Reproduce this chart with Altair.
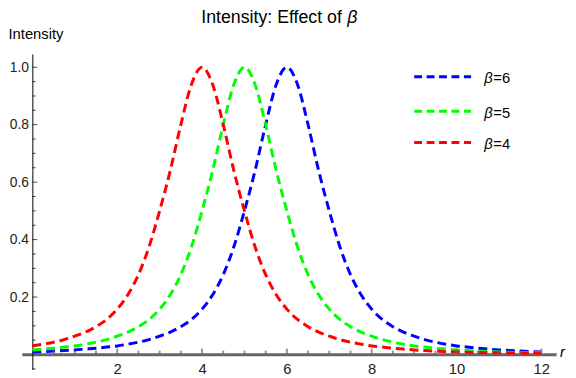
import altair as alt
import pandas as pd

# ---- data ----
r_grid = [0.0, 0.25, 0.5, 0.75, 1.0, 1.25, 1.5, 1.75, 2.0, 2.25, 2.5, 2.75,
          3.0, 3.25, 3.5, 3.75, 4.0, 4.25, 4.5, 4.75, 5.0, 5.25, 5.5, 5.75,
          6.0, 6.25, 6.5, 6.75, 7.0, 7.25, 7.5, 7.75, 8.0, 8.25, 8.5, 8.75,
          9.0, 9.25, 9.5, 9.75, 10.0, 10.25, 10.5, 10.75, 11.0, 11.25, 11.5, 11.75, 12.0]

intensity_beta6 = [0.009, 0.010, 0.012, 0.014, 0.016, 0.019, 0.022, 0.026, 0.030, 0.036, 0.043, 0.052,
                   0.064, 0.078, 0.097, 0.122, 0.158, 0.208, 0.278, 0.375, 0.500, 0.640, 0.800, 0.940,
                   1.000, 0.940, 0.800, 0.640, 0.500, 0.375, 0.278, 0.208, 0.158, 0.122, 0.097, 0.078,
                   0.064, 0.052, 0.043, 0.036, 0.030, 0.026, 0.022, 0.019, 0.016, 0.014, 0.012, 0.010, 0.009]

intensity_beta5 = [0.016, 0.019, 0.022, 0.026, 0.030, 0.036, 0.043, 0.052, 0.064, 0.078, 0.097, 0.122,
                   0.158, 0.208, 0.278, 0.375, 0.500, 0.640, 0.800, 0.940, 1.000, 0.940, 0.800, 0.640,
                   0.500, 0.375, 0.278, 0.208, 0.158, 0.122, 0.097, 0.078, 0.064, 0.052, 0.043, 0.036,
                   0.030, 0.026, 0.022, 0.019, 0.016, 0.014, 0.012, 0.010, 0.009, 0.008, 0.007, 0.0065, 0.006]

intensity_beta4 = [0.030, 0.036, 0.043, 0.052, 0.064, 0.078, 0.097, 0.122, 0.158, 0.208, 0.278, 0.375,
                   0.500, 0.640, 0.800, 0.940, 1.000, 0.940, 0.800, 0.640, 0.500, 0.375, 0.278, 0.208,
                   0.158, 0.122, 0.097, 0.078, 0.064, 0.052, 0.043, 0.036, 0.030, 0.026, 0.022, 0.019,
                   0.016, 0.014, 0.012, 0.010, 0.009, 0.008, 0.007, 0.0065, 0.006, 0.0055, 0.005, 0.0045, 0.004]

betas = [6, 5, 4]
legend_eq = ["=6", "=5", "=4"]
colors = ["#0000FF", "#00FF00", "#FF0000"]

x_major_ticks = [2, 4, 6, 8, 10, 12]
x_minor_ticks = [0.5, 1, 1.5, 2.5, 3, 3.5, 4.5, 5, 5.5, 6.5, 7, 7.5, 8.5, 9, 9.5, 10.5, 11, 11.5]
y_major_ticks = [0.2, 0.4, 0.6, 0.8, 1.0]
y_minor_ticks = [-0.05, 0.05, 0.1, 0.15, 0.25, 0.3, 0.35, 0.45, 0.5, 0.55, 0.65, 0.7,
                 0.75, 0.85, 0.9, 0.95]

title_text = "Intensity: Effect of"
greek = "β"
y_title = "Intensity"
x_title = "r"

# ---- build tables ----
rows = []
for b, vals in zip(betas, [intensity_beta6, intensity_beta5, intensity_beta4]):
    for r, v in zip(r_grid, vals):
        rows.append({"r": r, "I": v, "beta": b})
df = pd.DataFrame(rows)

FONT = "Liberation Sans"
AXIS_GRAY = "#666666"
LABEL_COLOR = "#222222"

x_scale = alt.Scale(domain=[-0.25, 12.35], nice=False, zero=False)
y_scale = alt.Scale(domain=[-0.052, 1.046], nice=False, zero=False)
color_scale = alt.Scale(domain=betas, range=colors)

x_axis = alt.Axis(
    values=x_major_ticks, format="d", offset=-15.4, domainColor=AXIS_GRAY,
    domainWidth=3, ticks=False, tickSize=0, labelPadding=7, labelFont=FONT,
    labelFontSize=15, labelColor=LABEL_COLOR, labelFlush=False, grid=False, title=None)
y_axis = alt.Axis(
    values=y_major_ticks, format=".1f", offset=-10.7, domainColor="#000000",
    domainWidth=1, ticks=False, tickSize=0, labelPadding=4, labelFont=FONT,
    labelFontSize=14, labelColor=LABEL_COLOR, labelFlush=False, grid=False, title=None)

curves = alt.Chart(df).mark_line(
    strokeWidth=3, strokeDash=[9, 5], interpolate="monotone", strokeCap="butt"
).encode(
    x=alt.X("r:Q", scale=x_scale, axis=x_axis),
    y=alt.Y("I:Q", scale=y_scale, axis=y_axis),
    color=alt.Color("beta:N", scale=color_scale, legend=None),
)

def xticks(vals, size):
    d = pd.DataFrame({"r": vals, "I": [0.0] * len(vals)})
    return alt.Chart(d).mark_tick(
        orient="vertical", size=size, thickness=2, yOffset=-size / 2, color=AXIS_GRAY
    ).encode(
        x=alt.X("r:Q", scale=x_scale),
        y=alt.Y("I:Q", scale=y_scale),
    )

def yticks(vals, size):
    d = pd.DataFrame({"r": [0.0] * len(vals), "I": vals})
    return alt.Chart(d).mark_tick(
        orient="horizontal", size=size, thickness=1, xOffset=size / 2, color="#000000"
    ).encode(
        x=alt.X("r:Q", scale=x_scale),
        y=alt.Y("I:Q", scale=y_scale),
    )

def text_layer(text, x, y, size, italic=False):
    d = pd.DataFrame({"t": [text]})
    return alt.Chart(d).mark_text(
        font=FONT, fontSize=size, fontStyle="italic" if italic else "normal",
        align="left", baseline="alphabetic", color="#000000"
    ).encode(text="t:N", x=alt.value(x), y=alt.value(y))

# legend rows (pixel positions inside the plot area)
legend_row_px = [23, 58, 89.7]
legend_layers = []
for b, eq, py in zip(betas, legend_eq, legend_row_px):
    d = pd.DataFrame({"beta": [b], "eq": [eq], "g": [greek]})
    legend_layers.append(
        alt.Chart(d).mark_rule(strokeWidth=3, strokeDash=[8, 4.6], strokeCap="butt").encode(
            x=alt.value(398), x2=alt.value(455.7), y=alt.value(py),
            color=alt.Color("beta:N", scale=color_scale, legend=None),
        )
    )
    legend_layers.append(
        alt.Chart(d).mark_text(
            font=FONT, fontSize=15, fontStyle="italic", align="left",
            baseline="alphabetic", color="#000000"
        ).encode(x=alt.value(469), y=alt.value(py + 6.5), text="g:N")
    )
    legend_layers.append(
        alt.Chart(d).mark_text(
            font=FONT, fontSize=15, align="left", baseline="alphabetic", color="#000000"
        ).encode(x=alt.value(478.2), y=alt.value(py + 6.5), text="eq:N")
    )

chart = alt.layer(
    curves,
    xticks(x_major_ticks, 6), xticks(x_minor_ticks, 4),
    yticks(y_major_ticks, 5), yticks(y_minor_ticks, 3.3),
    text_layer(title_text, 182, -31, 18),
    text_layer(greek, 330, -31, 18, italic=True),
    text_layer(y_title, -13.5, -15.5, 15),
    text_layer(x_title, 546, 307, 15, italic=True),
    *legend_layers,
).properties(
    width=542, height=320,
    autosize=alt.AutoSizeParams(type="none"),
    padding={"left": 14, "top": 44, "right": 12, "bottom": 6},
).configure_view(strokeWidth=0)

chart.save("out.html", embed_options={"renderer": "svg", "actions": False})
